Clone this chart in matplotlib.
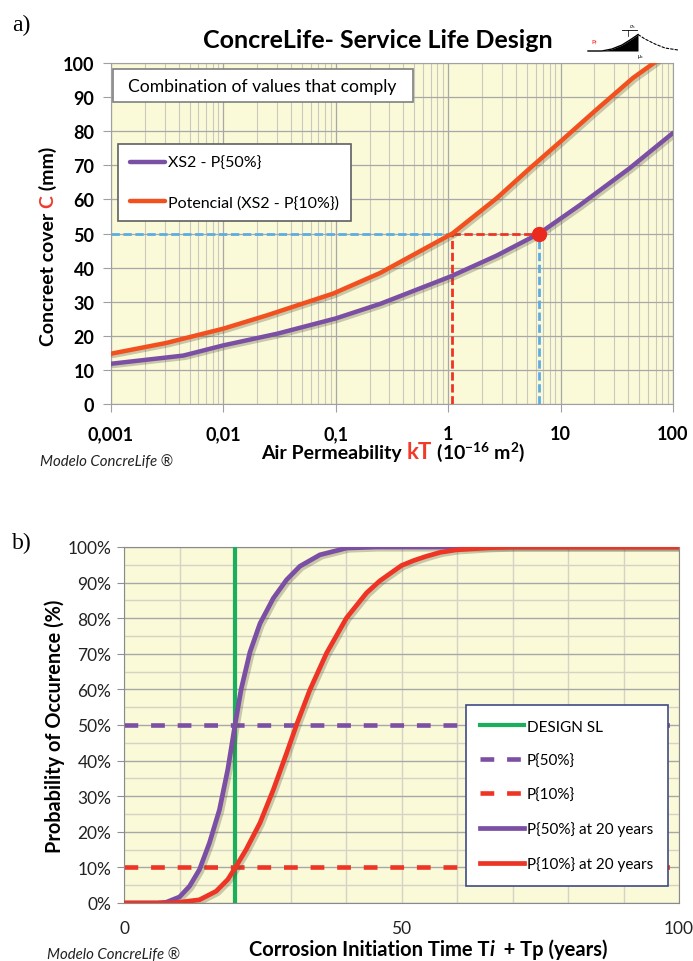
import matplotlib
matplotlib.use("Agg")
import matplotlib.pyplot as plt
import matplotlib.patheffects as pe
from matplotlib.patches import Rectangle
from matplotlib.ticker import FixedLocator, LogLocator, NullFormatter, MultipleLocator

plt.rcParams["font.family"] = ["Lato", "DejaVu Sans"]
plt.rcParams["mathtext.fontset"] = "custom"
plt.rcParams["mathtext.rm"] = "Lato"
plt.rcParams["mathtext.bf"] = "Lato:bold"
plt.rcParams["mathtext.it"] = "Lato:italic"

# ---- panel a) : cover vs air permeability (values read off the picture)
kt_p50 = [0.001, 0.0044, 0.01, 0.03, 0.1, 0.25, 1.05, 2.69, 6.45, 14.8, 41, 100]
cover_p50 = [11.8, 14.2, 17.2, 20.6, 25.1, 29.4, 37.4, 43.5, 50.0, 58.3, 69.1, 79.5]
kt_p10 = [0.001, 0.0031, 0.01, 0.0244, 0.095, 0.247, 1.09, 2.69, 5.32, 10, 20.8, 44, 71]
cover_p10 = [14.75, 17.9, 22.1, 26.0, 32.4, 38.4, 50.0, 60.3, 69.1, 77.0, 86.3, 95.6, 100.5]
design_cover = 50
kt_at_p10 = 1.09
kt_at_p50 = 6.45
a_xticks = [0.001, 0.01, 0.1, 1, 10, 100]
a_xticklabels = ["0,001", "0,01", "0,1", "1", "10", "100"]
a_yticks = list(range(0, 101, 10))
a_legend = ["XS2 - P{50%}", "Potencial (XS2 - P{10%})"]

# ---- panel b) : probability of occurrence vs time
t_p50 = [0, 6, 7.6, 10, 11.8, 13.6, 15.4, 17.2, 18.7, 20, 21.1, 22.7, 24.5, 26.9, 29.3,
         31.7, 35.3, 40.1, 45.5, 100]
prob_p50 = [0, 0, 0.2, 1.7, 4.7, 9.4, 16.9, 26.2, 37.5, 50.0, 60.0, 70.5, 78.5, 85.6,
            90.8, 94.6, 97.8, 99.7, 100, 100]
t_p10 = [0, 8, 10, 13.6, 16.6, 18.7, 20, 22, 24.5, 26.9, 29.3, 31.1, 33.5, 36.5, 40.1,
         43.7, 46.1, 48, 50, 52.2, 54.5, 57, 59.9, 65.9, 70, 100]
prob_p10 = [0, 0, 0.2, 0.9, 3.3, 6.6, 9.8, 15, 22.5, 31.8, 42.1, 50.1, 59.9, 70.2, 80.1,
            87.1, 90.5, 92.6, 94.8, 96.2, 97.4, 98.5, 99.2, 99.8, 100, 100]
design_sl = 20
b_xticks = [0, 50, 100]
b_yticks = list(range(0, 101, 10))
b_legend = ["DESIGN SL", "P{50%}", "P{10%}", "P{50%} at 20 years", "P{10%} at 20 years"]

# small logo in the top right corner (bell curve with shaded tail)
logo_x = [588, 602, 612, 622, 630, 636, 638]
logo_y = [52, 52, 50, 46, 41, 37, 35.5]
logo_tail_x = [638, 645, 655, 665, 678]
logo_tail_y = [35.5, 40, 45, 49, 51]

PURPLE = "#7B4FA3"
ORANGE = "#F2501F"
RED = "#EE3424"
GREEN = "#1AAF5D"
BLUE = "#5DADE2"
BG = "#FAF9D8"

W_PX, H_PX = 693, 962
fig = plt.figure(figsize=(W_PX / 100, H_PX / 100), dpi=100)


def shadow():
    return [pe.SimpleLineShadow(offset=(1.6, -1.6), shadow_color="#55553a", alpha=0.3),
            pe.Normal()]


def pieces_text(x_px, y_px, pieces, rotation=0, size=14, va="baseline"):
    """Draw a label made of differently styled pieces, centred on (x_px, y_px)."""
    r = fig.canvas.get_renderer()

    def width(s, props):
        t = fig.text(0, 0, s, **props)
        w = t.get_window_extent(r).width
        t.remove()
        return w

    pieces = [(s, dict({"fontsize": size}, **props)) for s, props in pieces]
    lens = []
    for s, props in pieces:
        bar = width("|", props)
        lens.append(width("|" + s + "|", props) - 2 * bar)
    pos = -sum(lens) / 2
    for (s, props), l in zip(pieces, lens):
        if rotation == 90:
            xy = (x_px / W_PX, 1 - (y_px - pos) / H_PX)
        else:
            xy = ((x_px + pos) / W_PX, 1 - y_px / H_PX)
        fig.text(xy[0], xy[1], s, rotation=rotation,
                 rotation_mode="anchor", ha="left", va=va, **props)
        pos += l


# =================== panel a ===================
ax = fig.add_axes([111 / W_PX, 1 - 405 / H_PX, 562 / W_PX, 341 / H_PX])
ax.set_facecolor(BG)
ax.set_xscale("log")
ax.set_xlim(0.001, 100)
ax.set_ylim(0, 100)

ax.plot(kt_p50, cover_p50, color=PURPLE, lw=3.2, label=a_legend[0],
        path_effects=shadow(), zorder=4, solid_capstyle="round")
ax.plot(kt_p10, cover_p10, color=ORANGE, lw=3.2, label=a_legend[1],
        path_effects=shadow(), zorder=4, solid_capstyle="round")

ax.plot([0.001, kt_at_p10], [design_cover, design_cover], color=BLUE, lw=2,
        ls=(0, (3, 1.3)), zorder=3)
ax.plot([kt_at_p10, kt_at_p50], [design_cover, design_cover], color=RED, lw=2,
        ls=(0, (3, 1.3)), zorder=3)
ax.plot([kt_at_p10, kt_at_p10], [0, design_cover], color=RED, lw=2,
        ls=(0, (3, 1.3)), zorder=3)
ax.plot([kt_at_p50, kt_at_p50], [0, design_cover], color=BLUE, lw=2,
        ls=(0, (3, 1.3)), zorder=3)
ax.plot([kt_at_p50], [design_cover], "o", color="#EA2A1E", ms=10, zorder=6)

ax.xaxis.set_major_locator(FixedLocator(a_xticks))
ax.set_xticklabels(a_xticklabels)
ax.xaxis.set_minor_locator(LogLocator(base=10, subs=range(2, 10), numticks=20))
ax.xaxis.set_minor_formatter(NullFormatter())
ax.set_yticks(a_yticks)
ax.grid(which="major", color="#A8A8A8", lw=0.9, zorder=0)
ax.grid(which="minor", axis="x", color="#C9C9BC", lw=0.8, zorder=0)
ax.set_axisbelow(True)
ax.tick_params(which="major", direction="out", length=6, color="#A0A0A0",
               labelsize=13, pad=6)
ax.tick_params(which="minor", length=0)
ax.tick_params(axis="x", pad=9)
for lab in ax.get_xticklabels() + ax.get_yticklabels():
    lab.set_fontweight("bold")
for sp in ax.spines.values():
    sp.set_color("#A0A0A0")

ax.add_patch(Rectangle((0.0036, 0.886), 0.534, 0.097, transform=ax.transAxes,
                       facecolor="white", edgecolor="#808080", lw=1.2, zorder=7))
ax.text(0.03, 0.934, "Combination of values that comply", transform=ax.transAxes,
        fontsize=12.6, va="center", ha="left", zorder=8)

leg = ax.legend(loc="upper left", bbox_to_anchor=(0.0125, 0.762), borderaxespad=0,
                fontsize=11.5, handlelength=2.2, handletextpad=0.2, labelspacing=1.55,
                borderpad=0.75, fancybox=False, framealpha=1, edgecolor="#606060")
leg.get_frame().set_linewidth(1.2)
for h in leg.legend_handles:
    h.set_path_effects([])

# =================== panel b ===================
bx = fig.add_axes([124 / W_PX, 1 - 904 / H_PX, 555 / W_PX, 356 / H_PX])
bx.set_facecolor(BG)
bx.set_xlim(0, 100)
bx.set_ylim(0, 100)

bx.axvline(design_sl, color=GREEN, lw=3, label=b_legend[0], zorder=3)
bx.axhline(50, color=PURPLE, lw=3.3, ls=(0, (3, 2.8)), label=b_legend[1], zorder=2)
bx.axhline(10, color=RED, lw=3.3, ls=(0, (3, 2.8)), label=b_legend[2], zorder=2)
bx.plot(t_p50, prob_p50, color=PURPLE, lw=3.4, label=b_legend[3],
        path_effects=shadow(), zorder=4)
bx.plot(t_p10, prob_p10, color=RED, lw=3.4, label=b_legend[4],
        path_effects=shadow(), zorder=5)

bx.xaxis.set_major_locator(FixedLocator(b_xticks))
bx.xaxis.set_minor_locator(MultipleLocator(10))
bx.set_yticks(b_yticks)
bx.set_yticklabels([f"{v}%" for v in b_yticks])
bx.yaxis.set_minor_locator(MultipleLocator(5))
bx.grid(which="major", axis="y", color="#A8A8A8", lw=1.0, zorder=0)
bx.grid(which="minor", axis="y", color="#D4D4C4", lw=1.0, zorder=0)
bx.grid(which="both", axis="x", color="#D4D4C4", lw=1.0, zorder=0)
bx.set_axisbelow(True)
bx.tick_params(axis="y", which="major", direction="out", length=5, color="#909090",
               labelsize=12.5, labelcolor="#222222", pad=4)
bx.tick_params(axis="x", which="major", length=0, labelsize=12.5,
               labelcolor="#222222", pad=12)
bx.tick_params(which="minor", length=0)
for sp in bx.spines.values():
    sp.set_color("#8A8A8A")

leg2 = bx.legend(loc="upper left", bbox_to_anchor=(0.616, 0.556), borderaxespad=0,
                 fontsize=11, handlelength=2.85, handletextpad=0.2, labelspacing=1.3,
                 borderpad=0.95, fancybox=False, framealpha=1, edgecolor="#3F4C85")
leg2.get_frame().set_linewidth(1.2)
for h in leg2.legend_handles:
    h.set_path_effects([])

# =================== texts ===================
fig.text(378 / W_PX, 1 - 41 / H_PX, "ConcreLife- Service Life Design", fontsize=18,
         fontweight="bold", ha="center", va="center")
fig.text(12 / W_PX, 1 - 25 / H_PX, "a)", family="Liberation Serif", fontsize=17,
         ha="left", va="center")
fig.text(12 / W_PX, 1 - 543 / H_PX, "b)", family="Liberation Serif", fontsize=17,
         ha="left", va="center")
fig.text(40 / W_PX, 1 - 462 / H_PX, "Modelo ConcreLife \u00ae", fontsize=10.8,
         style="italic", ha="left", va="center", color="#222222")
fig.text(47 / W_PX, 1 - 955 / H_PX, "Modelo ConcreLife \u00ae", fontsize=10.8,
         style="italic", ha="left", va="center", color="#222222")

bold = {"fontweight": "bold"}
red_bold = {"fontweight": "bold", "color": "#F03A2A"}
pieces_text(48, 246, [("Concreet cover ", bold), ("C", red_bold), (" (mm)", bold)],
            rotation=90, size=14, va="center")
pieces_text(393, 459, [("Air Permeability ", bold), ("kT", dict(red_bold, fontsize=16)),
                       (r" (10$^{\mathbf{-16}}$ m$^{\mathbf{2}}$)", bold)], size=14)
pieces_text(55, 726, [("Probability of Occurence (%)", bold)], rotation=90, size=14.3,
            va="center")
pieces_text(428, 956, [("Corrosion Initiation Time T", bold),
                       ("i", {"fontweight": "bold", "style": "italic"}),
                       ("  + Tp (years)", bold)], size=14.5)

# logo
lx = fig.add_axes([580 / W_PX, 1 - 64 / H_PX, 110 / W_PX, 46 / H_PX])
lx.set_xlim(580, 690)
lx.set_ylim(64, 18)
lx.axis("off")
lx.fill_between(logo_x[1:], logo_y[1:], 52, color="black", lw=0)
lx.plot(logo_x, logo_y, color="black", lw=1)
lx.plot(logo_tail_x, logo_tail_y, color="black", lw=0.8, ls=(0, (3, 1)))
lx.plot([622, 637], [31, 31], color="black", lw=0.6)
lx.plot([628, 628], [31, 37], color="black", lw=0.5)
lx.text(595, 43, "P$_f$", color="red", fontsize=4.5, ha="center", va="center")
lx.text(632, 27, r"$\sigma_s$", fontsize=4, ha="center", va="center")
lx.text(640, 57, r"$\mu_s$", fontsize=4, ha="center", va="center")

fig.savefig("out.png", dpi=100)
